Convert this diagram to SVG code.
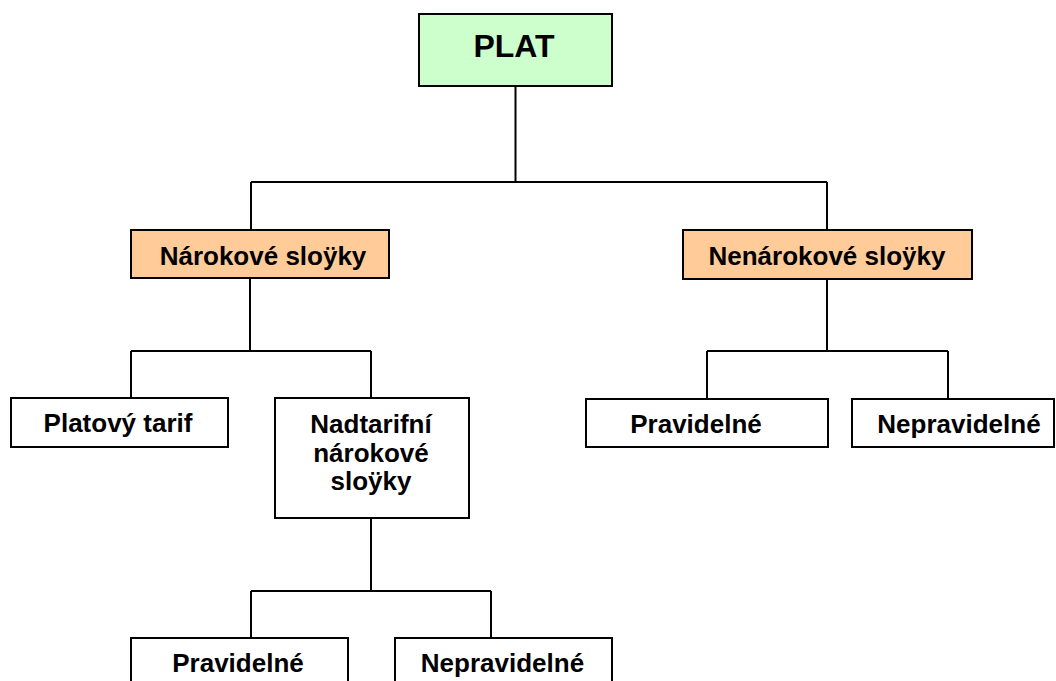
<svg xmlns="http://www.w3.org/2000/svg" width="1056" height="681" viewBox="0 0 1056 681">
<style>
.box{fill:#ffffff;stroke:#000;stroke-width:2}
.green{fill:#ccffcc}
.orange{fill:#ffcc99}
.t{font-family:"Liberation Sans",Arial,sans-serif;font-weight:bold;font-size:26px;text-anchor:middle;fill:#000}
.big{font-size:32px}
.conn{fill:none;stroke:#000;stroke-width:2}
</style>
<rect width="1056" height="681" fill="#ffffff"/>
<g id="connectors" class="conn">
<path d="M515.5 86V182M251 182H827M251 182V230M827 182V230"/>
<path d="M250 278V351M131 351H371M131 351V398M371 351V398"/>
<path d="M371 518V591M251 591H491M251 591V638M491 591V638"/>
<path d="M827 279V351M707 351H948M707 351V399M948 351V399"/>
</g>
<g id="plat"><rect class="box green" x="419" y="14" width="193" height="72"/><text class="t big" x="514" y="57">PLAT</text></g>
<g id="narokove"><rect class="box orange" x="131" y="230" width="258" height="48"/><text class="t" x="263" y="265">Nárokové sloÿky</text></g>
<g id="nenarokove"><rect class="box orange" x="683" y="230" width="289" height="49"/><text class="t" x="827" y="265">Nenárokové sloÿky</text></g>
<g id="platovy-tarif"><rect class="box" x="11" y="398" width="217" height="49"/><text class="t" x="118" y="432">Platový tarif</text></g>
<g id="nadtarifni"><rect class="box" x="275" y="398" width="194" height="120"/><text class="t" x="371" y="433">Nadtarifní</text><text class="t" x="371" y="461.5">nárokové</text><text class="t" x="371" y="490">sloÿky</text></g>
<g id="pravidelne-1"><rect class="box" x="586" y="399" width="242" height="48"/><text class="t" x="696" y="433">Pravidelné</text></g>
<g id="nepravidelne-1"><rect class="box" x="852" y="399" width="202" height="48"/><text class="t" x="959" y="433">Nepravidelné</text></g>
<g id="pravidelne-2"><rect class="box" x="131" y="638" width="217" height="70"/><text class="t" x="238" y="672">Pravidelné</text></g>
<g id="nepravidelne-2"><rect class="box" x="395" y="638" width="217" height="70"/><text class="t" x="502.5" y="672">Nepravidelné</text></g>
</svg>
